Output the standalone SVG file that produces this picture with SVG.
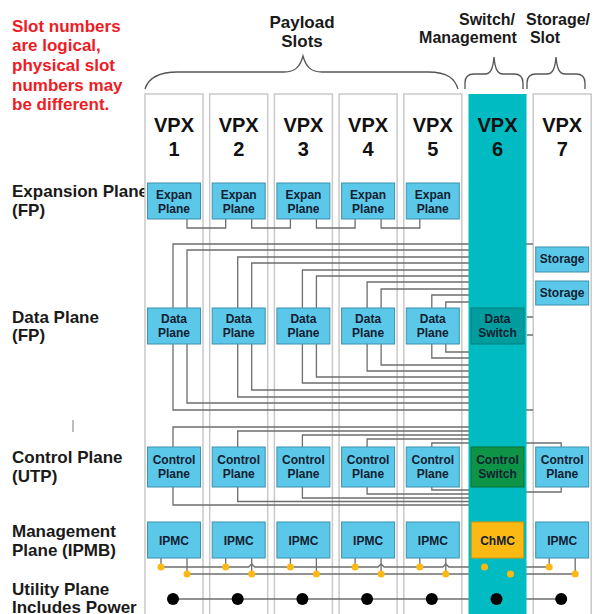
<svg xmlns="http://www.w3.org/2000/svg" width="600" height="614" viewBox="0 0 600 614">
<style>
text{font-family:"Liberation Sans",Arial,sans-serif;font-weight:bold;}
.slot{fill:#fff;stroke:#c9c9c9;stroke-width:1.5;}
.box{fill:#5bc8ea;stroke:#3f8fae;stroke-width:1;}
.bt{font-size:12px;fill:#102030;text-anchor:middle;}
.vpx{font-size:20px;fill:#111;text-anchor:middle;}
.lbl{font-size:17px;fill:#1a1a1a;}
.hdr{fill:#1a1a1a;text-anchor:middle;}
.red{font-size:17px;fill:#ee1c25;}
.w{fill:none;stroke:#6e6e6e;stroke-width:1.3;}
.br{fill:none;stroke:#555;stroke-width:1.3;}
.od{fill:#fdb913;}
.bd{fill:#000;}
</style>

<g id="note">
<text class="red" x="12" y="32">Slot numbers</text>
<text class="red" x="12" y="51">are logical,</text>
<text class="red" x="12" y="71">physical slot</text>
<text class="red" x="12" y="91">numbers may</text>
<text class="red" x="12" y="110">be different.</text>
</g>

<g id="headers">
<text class="hdr" x="302" y="28" font-size="17">Payload</text>
<text class="hdr" x="302" y="47" font-size="17">Slots</text>
<text class="hdr" x="487" y="25" font-size="16">Switch/</text>
<text class="hdr" x="468" y="43" font-size="16">Management</text>
<text class="hdr" x="558" y="25" font-size="16">Storage/</text>
<text class="hdr" x="545" y="43" font-size="16">Slot</text>
<path class="br" d="M145,89 C148,79 158,72 178,72 L284,72 C295,72 300,67 303,56 C306,67 311,72 322,72 L428,72 C448,72 455,79 458,89"/>
<path class="br" d="M465,89 L465,83 C465,77 468,74 474,74 L485,74 C491,74 493,68 494,57 C495,68 497,74 503,74 L514,74 C520,74 523,77 523,83 L523,89"/>
<path class="br" d="M527,89 L527,83 C527,77 530,74 536,74 L547,74 C553,74 555,68 556,57 C557,68 559,74 565,74 L576,74 C582,74 585,77 585,83 L585,89"/>
</g>

<g id="plane-labels">
<text class="lbl" x="12" y="197">Expansion Plane</text>
<text class="lbl" x="12" y="216">(FP)</text>
<text class="lbl" x="12" y="323">Data Plane</text>
<text class="lbl" x="12" y="341">(FP)</text>
<text class="lbl" x="12" y="463">Control Plane</text>
<text class="lbl" x="12" y="482">(UTP)</text>
<text class="lbl" x="12" y="537">Management</text>
<text class="lbl" x="12" y="556">Plane (IPMB)</text>
<text class="lbl" x="12" y="595">Utility Plane</text>
<text class="lbl" x="12" y="613">Includes Power</text>
<line x1="73" y1="420" x2="73" y2="432" stroke="#999" stroke-width="1.3"/>
</g>

<g id="slot-columns">
<rect class="slot" x="145" y="94" width="58" height="530"/>
<rect class="slot" x="209.7" y="94" width="58" height="530"/>
<rect class="slot" x="274.4" y="94" width="58" height="530"/>
<rect class="slot" x="339.1" y="94" width="58" height="530"/>
<rect class="slot" x="403.8" y="94" width="58" height="530"/>
<rect class="slot" x="533.2" y="94" width="58" height="530"/>
</g>

<g id="connectors">
<path class="w" d="M187,219 V228 H225.7 V219"/>
<path class="w" d="M251.7,219 V228 H290.4 V219"/>
<path class="w" d="M316.4,219 V228 H355.1 V219"/>
<path class="w" d="M381.1,219 V228 H419.8 V219"/>
<path class="w" d="M533,410 H173 V244 H533"/>
<path class="w" d="M480,403 H187 V250 H480"/>
<path class="w" d="M480,397 H237.7 V257 H480"/>
<path class="w" d="M480,390 H251.7 V263 H480"/>
<path class="w" d="M480,383 H302.4 V270 H480"/>
<path class="w" d="M480,377 H316.4 V276 H480"/>
<path class="w" d="M480,371 H367.1 V282 H480"/>
<path class="w" d="M480,365 H381.1 V289 H480"/>
<path class="w" d="M480,358 H431.8 V295 H480"/>
<path class="w" d="M480,352 H445.8 V302 H480"/>
<path class="w" d="M527,317 H533 M527,335 H533"/>
<path class="w" d="M480,505 H173 V427 H480"/>
<path class="w" d="M480,501.5 H237.7 V431 H480"/>
<path class="w" d="M480,498 H302.4 V435 H480"/>
<path class="w" d="M480,494 H367.1 V439 H480"/>
<path class="w" d="M480,490 H431.8 V443 H480"/>
<path class="w" d="M520,443 H561.2 V447 M520,492 H561.2 V487"/>
<path class="w" d="M161,558 V567 M187,558 V574 M225.7,558 V567 M251.7,558 V574 M290.4,558 V567 M316.4,558 V574 M355.1,558 V567 M381.1,558 V574 M419.8,558 V567 M445.8,558 V574 M549.2,558 V567 M575.2,558 V574"/>
<path class="w" d="M161,567 H248.7 L251.7,564 L254.7,567 H378.1 L381.1,564 L384.1,567 H442.8 L445.8,564 L448.8,567 H480"/>
<path class="w" d="M187,574 H480"/>
<path class="w" d="M520,567 H549.2 M520,574 H575.2"/>
<path class="w" d="M173,599 H561.2" stroke="#333"/>
</g>

<g id="slot-6-column">
<rect x="468.5" y="94" width="58" height="530" fill="#00bbc1"/>
</g>

<g id="slot-titles">
<text class="vpx" x="174" y="132">VPX</text><text class="vpx" x="174" y="156">1</text>
<text class="vpx" x="238.7" y="132">VPX</text><text class="vpx" x="238.7" y="156">2</text>
<text class="vpx" x="303.4" y="132">VPX</text><text class="vpx" x="303.4" y="156">3</text>
<text class="vpx" x="368.1" y="132">VPX</text><text class="vpx" x="368.1" y="156">4</text>
<text class="vpx" x="432.8" y="132">VPX</text><text class="vpx" x="432.8" y="156">5</text>
<text class="vpx" x="497.5" y="132">VPX</text><text class="vpx" x="497.5" y="156">6</text>
<text class="vpx" x="562.2" y="132">VPX</text><text class="vpx" x="562.2" y="156">7</text>
</g>

<g id="expan-1"><rect class="box" x="147.5" y="183" width="53" height="36"/><text class="bt" x="174" y="199">Expan</text><text class="bt" x="174" y="213">Plane</text></g>
<g id="expan-2"><rect class="box" x="212.2" y="183" width="53" height="36"/><text class="bt" x="238.7" y="199">Expan</text><text class="bt" x="238.7" y="213">Plane</text></g>
<g id="expan-3"><rect class="box" x="276.9" y="183" width="53" height="36"/><text class="bt" x="303.4" y="199">Expan</text><text class="bt" x="303.4" y="213">Plane</text></g>
<g id="expan-4"><rect class="box" x="341.6" y="183" width="53" height="36"/><text class="bt" x="368.1" y="199">Expan</text><text class="bt" x="368.1" y="213">Plane</text></g>
<g id="expan-5"><rect class="box" x="406.3" y="183" width="53" height="36"/><text class="bt" x="432.8" y="199">Expan</text><text class="bt" x="432.8" y="213">Plane</text></g>

<g id="storage-1"><rect class="box" x="535.7" y="247" width="53" height="25"/><text class="bt" x="562.2" y="263">Storage</text></g>
<g id="storage-2"><rect class="box" x="535.7" y="281" width="53" height="24"/><text class="bt" x="562.2" y="297">Storage</text></g>

<g id="data-1"><rect class="box" x="147.5" y="308" width="53" height="36"/><text class="bt" x="174" y="323">Data</text><text class="bt" x="174" y="337">Plane</text></g>
<g id="data-2"><rect class="box" x="212.2" y="308" width="53" height="36"/><text class="bt" x="238.7" y="323">Data</text><text class="bt" x="238.7" y="337">Plane</text></g>
<g id="data-3"><rect class="box" x="276.9" y="308" width="53" height="36"/><text class="bt" x="303.4" y="323">Data</text><text class="bt" x="303.4" y="337">Plane</text></g>
<g id="data-4"><rect class="box" x="341.6" y="308" width="53" height="36"/><text class="bt" x="368.1" y="323">Data</text><text class="bt" x="368.1" y="337">Plane</text></g>
<g id="data-5"><rect class="box" x="406.3" y="308" width="53" height="36"/><text class="bt" x="432.8" y="323">Data</text><text class="bt" x="432.8" y="337">Plane</text></g>
<g id="data-switch"><rect x="471" y="308" width="53" height="36" fill="#009c9e" stroke="#00807f" stroke-width="1"/><text class="bt" x="497.5" y="323">Data</text><text class="bt" x="497.5" y="337">Switch</text></g>

<g id="control-1"><rect class="box" x="147.5" y="447" width="53" height="40"/><text class="bt" x="174" y="464">Control</text><text class="bt" x="174" y="478">Plane</text></g>
<g id="control-2"><rect class="box" x="212.2" y="447" width="53" height="40"/><text class="bt" x="238.7" y="464">Control</text><text class="bt" x="238.7" y="478">Plane</text></g>
<g id="control-3"><rect class="box" x="276.9" y="447" width="53" height="40"/><text class="bt" x="303.4" y="464">Control</text><text class="bt" x="303.4" y="478">Plane</text></g>
<g id="control-4"><rect class="box" x="341.6" y="447" width="53" height="40"/><text class="bt" x="368.1" y="464">Control</text><text class="bt" x="368.1" y="478">Plane</text></g>
<g id="control-5"><rect class="box" x="406.3" y="447" width="53" height="40"/><text class="bt" x="432.8" y="464">Control</text><text class="bt" x="432.8" y="478">Plane</text></g>
<g id="control-switch"><rect x="471" y="447" width="53" height="40" fill="#0e9447" stroke="#0a7436" stroke-width="1"/><text class="bt" x="497.5" y="464">Control</text><text class="bt" x="497.5" y="478">Switch</text></g>
<g id="control-7"><rect class="box" x="535.7" y="447" width="53" height="40"/><text class="bt" x="562.2" y="464">Control</text><text class="bt" x="562.2" y="478">Plane</text></g>

<g id="ipmc-1"><rect class="box" x="147.5" y="522" width="53" height="36"/><text class="bt" x="174" y="545">IPMC</text></g>
<g id="ipmc-2"><rect class="box" x="212.2" y="522" width="53" height="36"/><text class="bt" x="238.7" y="545">IPMC</text></g>
<g id="ipmc-3"><rect class="box" x="276.9" y="522" width="53" height="36"/><text class="bt" x="303.4" y="545">IPMC</text></g>
<g id="ipmc-4"><rect class="box" x="341.6" y="522" width="53" height="36"/><text class="bt" x="368.1" y="545">IPMC</text></g>
<g id="ipmc-5"><rect class="box" x="406.3" y="522" width="53" height="36"/><text class="bt" x="432.8" y="545">IPMC</text></g>
<g id="chmc"><rect x="471.5" y="522" width="52" height="36" fill="#fdb913" stroke="#d99a00" stroke-width="1"/><text class="bt" x="497.5" y="545">ChMC</text></g>
<g id="ipmc-7"><rect class="box" x="535.7" y="522" width="53" height="36"/><text class="bt" x="562.2" y="545">IPMC</text></g>

<g id="ipmb-dots">
<circle class="od" cx="161" cy="567" r="3.5"/><circle class="od" cx="187" cy="574" r="3.5"/>
<circle class="od" cx="225.7" cy="567" r="3.5"/><circle class="od" cx="251.7" cy="574" r="3.5"/>
<circle class="od" cx="290.4" cy="567" r="3.5"/><circle class="od" cx="316.4" cy="574" r="3.5"/>
<circle class="od" cx="355.1" cy="567" r="3.5"/><circle class="od" cx="381.1" cy="574" r="3.5"/>
<circle class="od" cx="419.8" cy="567" r="3.5"/><circle class="od" cx="445.8" cy="574" r="3.5"/>
<circle class="od" cx="484.5" cy="567" r="3.5"/><circle class="od" cx="510.5" cy="574" r="3.5"/>
<circle class="od" cx="549.2" cy="567" r="3.5"/><circle class="od" cx="575.2" cy="574" r="3.5"/>
</g>

<g id="power-dots">
<circle class="bd" cx="173" cy="599" r="6"/>
<circle class="bd" cx="237.7" cy="599" r="6"/>
<circle class="bd" cx="302.4" cy="599" r="6"/>
<circle class="bd" cx="367.1" cy="599" r="6"/>
<circle class="bd" cx="431.8" cy="599" r="6"/>
<circle class="bd" cx="496.5" cy="599" r="6"/>
<circle class="bd" cx="561.2" cy="599" r="6"/>
</g>
</svg>
